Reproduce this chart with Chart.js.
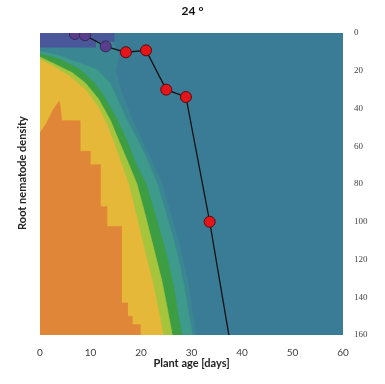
<!DOCTYPE html>
<html>
<head>
<meta charset="utf-8">
<script src="https://cdn.jsdelivr.net/npm/chart.js@4.4.1/dist/chart.umd.min.js"></script>
<style>
  html, body { margin: 0; padding: 0; background: #fff; }
  #wrap { width: 385px; height: 384px; }
</style>
</head>
<body>
<div id="wrap"><canvas id="chart"></canvas></div>
<script>
// ---- observed points (plant age [days], root nematode density) ----
const obsAge = [6.9, 8.9, 13.0, 17.0, 21.0, 25.0, 28.9, 33.6, 37.4];
const obsDensity = [0.5, 1.2, 7.1, 10.2, 9.2, 30.0, 33.9, 100.0, 160];
const obsInShade = [true, true, true, false, false, false, false, false, false]; // inside the top purple band
const obsMarker = [true, true, true, true, true, true, true, true, false];     // last one is just where the line leaves the plot

// ---- axis ticks ----
const ageTicks = [0, 10, 20, 30, 40, 50, 60];
const densityTicks = [0, 20, 40, 60, 80, 100, 120, 140, 160];

// ---- contour bands (outline as plant age / density pairs) ----
const bgAge = [0, 60, 60, 0];
const bgDensity = [0, 0, 160, 160];

const purpleAge = [0, 14.6, 14.6, 11, 11, 0];
const purpleDensity = [0, 0, 4.5, 4.5, 7.5, 7.5];

const midAge = [14.6, 15, 15.5, 15, 16, 18, 20.2, 22.5, 24.2, 26.0, 27.9, 29.3, 30.3, 30.9, 0, 0];
const midDensity = [4.5, 8, 12, 20, 30, 44, 57, 70, 80, 97, 115, 132, 150, 160, 160, 4.5];

const tealAge = [0, 3.3, 7.9, 11.3, 13.8, 15.3, 16.8, 19.4, 21.7, 23.2, 25.1, 27.0, 28.4, 29.5, 30.2, 0];
const tealDensity = [9.7, 11.5, 16, 19.4, 26.5, 35, 44, 57, 70, 80, 97, 115, 132, 150, 160, 160];

const greenAge = [0, 4, 7.9, 10.8, 13.0, 15.3, 17.2, 19.1, 21.0, 22.9, 24.8, 26.3, 27.4, 28.1, 0];
const greenDensity = [11, 14, 19.4, 26.5, 35, 46, 57, 70, 80, 97, 115, 132, 150, 160, 160];

const limeAge = [0, 2.6, 6.4, 9.0, 11.6, 13.9, 15.6, 17.2, 19.2, 20.9, 22.6, 24.2, 25.5, 26.2, 0];
const limeDensity = [12.7, 16, 21, 26.5, 35, 46, 57, 67, 80, 97, 115, 132, 150, 160, 160];

const yellowAge = [0, 2.6, 5.9, 9.0, 11.7, 13.5, 14.9, 16.2, 17.5, 19.1, 20.7, 22.3, 23.7, 24.4, 0];
const yellowDensity = [14, 17.7, 23, 30, 40, 50, 60, 70, 80, 97, 115, 132, 150, 160, 160];

const orangeAge = [0, 1.3, 2.6, 3.3, 3.8, 4.1, 4.3, 7.9, 7.9, 9.9, 9.9, 11.9, 11.9, 13.2, 13.2, 16.1, 16.1, 17.3, 17.3, 18.2, 18.2, 19.8, 19.8, 0];
const orangeDensity = [53, 47.7, 40.6, 38, 36.2, 40.6, 46.5, 46.5, 62.7, 62.7, 69.8, 69.8, 92, 92, 102.5, 102.5, 143, 143, 150, 150, 154.5, 154.5, 160, 160];

// zip two arrays into {x, y}
function pts(xs, ys) { return xs.map((x, i) => ({ x: x, y: ys[i] })); }

function band(label, xs, ys, color) {
  return {
    label: label,
    data: pts(xs, ys),
    fill: 'shape',
    backgroundColor: color,
    borderColor: color,
    borderWidth: 0.6,
    pointRadius: 0,
    tension: 0,
    clip: 0
  };
}

const gridColor = (lo, hi) => (c) =>
  (c.tick && (c.tick.value === lo || c.tick.value === hi)) ? 'rgba(0,0,0,0)' : 'rgba(0,0,0,0.17)';

// dataset 0 is drawn last (on top)
const datasets = [
  {
    label: 'observed',
    data: pts(obsAge, obsDensity),
    borderColor: '#111',
    borderWidth: 1.3,
    pointRadius: obsMarker.map(m => m ? 5.5 : 0),
    pointBackgroundColor: obsInShade.map(s => s ? '#583e8c' : '#e3151b'),
    pointBorderColor: obsInShade.map(s => s ? '#36275a' : '#5a0a0a'),
    pointBorderWidth: 1,
    fill: false,
    tension: 0
  },
  band('purple', purpleAge, purpleDensity, '#4a589a'),
  band('orange', orangeAge, orangeDensity, '#e08638'),
  band('yellow', yellowAge, yellowDensity, '#e6b83a'),
  band('lime', limeAge, limeDensity, '#a6c43c'),
  band('green', greenAge, greenDensity, '#3c9d42'),
  band('teal', tealAge, tealDensity, '#3e9a8a'),
  band('mid', midAge, midDensity, '#3a8793'),
  band('bg', bgAge, bgDensity, '#3a7b96')
];

new Chart(document.getElementById('chart'), {
  type: 'line',
  data: { datasets: datasets },
  options: {
    responsive: true,
    maintainAspectRatio: false,
    animation: false,
    events: [],
    layout: { padding: 0 },
    plugins: {
      legend: { display: false },
      tooltip: { enabled: false },
      title: {
        display: true,
        text: '24 °',
        color: '#111',
        font: { family: 'Lato', size: 12, weight: 'bold' },
        padding: { top: 4, bottom: 14.6 }
      }
    },
    scales: {
      x: {
        type: 'linear',
        min: 0, max: 60,
        z: 1,
        afterBuildTicks: s => { s.ticks = ageTicks.map(v => ({ value: v })); },
        ticks: { color: '#404040', font: { family: 'Lato', size: 10 }, padding: 12 },
        grid: { color: gridColor(0, 60), drawTicks: false },
        border: { display: false },
        title: {
          display: true,
          text: 'Plant age [days]',
          color: '#222',
          font: { family: 'Lato', size: 11, weight: 'bold' },
          padding: { top: 0, bottom: 14.4 }
        },
        afterFit: s => { s.height = 49; }
      },
      y: {
        type: 'linear',
        position: 'right',
        reverse: true,
        min: 0, max: 160,
        z: 1,
        afterBuildTicks: s => { s.ticks = densityTicks.map(v => ({ value: v })); },
        ticks: { color: '#444', font: { family: 'Liberation Serif', size: 9 }, padding: 11 },
        grid: { color: gridColor(0, 160), drawTicks: false },
        border: { display: false },
        afterFit: s => { s.width = 42; }
      },
      yl: {
        type: 'linear',
        position: 'left',
        display: true,
        ticks: { display: false },
        grid: { display: false, drawTicks: false },
        border: { display: false },
        title: {
          display: true,
          text: '\u2002\u2002\u2002\u2002Root nematode density',
          color: '#222',
          font: { family: 'Lato', size: 11, weight: 'bold' },
          padding: { top: 16, bottom: 0 }
        },
        afterFit: s => { s.width = 40; }
      }
    }
  }
});
</script>
</body>
</html>
